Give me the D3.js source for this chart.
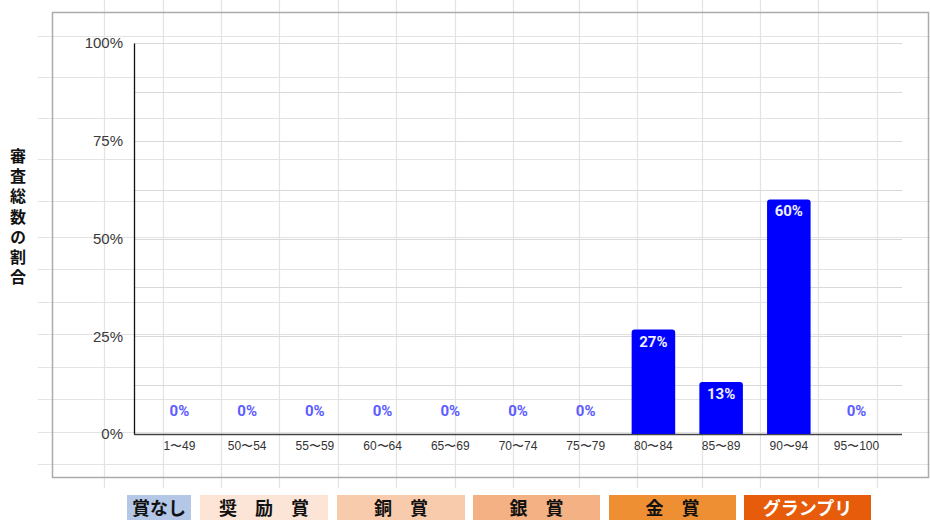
<!DOCTYPE html>
<html>
<head>
<meta charset="utf-8">
<script src="https://cdn.jsdelivr.net/npm/d3@7"></script>
<style>
  html, body { margin: 0; padding: 0; background: #fff; }
  svg { display: block; }
</style>
</head>
<body>
<div id="chart"></div>
<script>
// score bands and share of all entries (%)
var categories = ["1〜49", "50〜54", "55〜59", "60〜64", "65〜69", "70〜74", "75〜79", "80〜84", "85〜89", "90〜94", "95〜100"];
var shares = [0, 0, 0, 0, 0, 0, 0, 26.7, 13.3, 60, 0];
var yTicks = [0, 25, 50, 75, 100];
var yTitle = "審査総数の割合";

// award legend under the chart
var awards = ["賞なし", "奨　励　賞", "銅　賞", "銀　賞", "金　賞", "グランプリ"];
var awardColors = ["#b4c7e7", "#fce4d6", "#f8cbad", "#f4b183", "#ed8f32", "#e65c0a"];
var awardText = ["#111", "#111", "#111", "#111", "#111", "#fff"];

// spreadsheet behind the chart
var sheetCols = [104, 163, 221, 279, 338, 396, 455, 513, 579, 637, 702, 760, 818, 877];
var sheetRows = [36, 77, 118, 159, 201, 237, 269, 302, 334, 367, 399, 432, 464];

var W = 930, H = 520;
var plot = {left: 134, right: 902, top: 43, bottom: 434};

var svg = d3.select("#chart").append("svg")
    .attr("width", W)
    .attr("height", H);

// sheet grid
svg.append("g").selectAll("line").data(sheetCols).enter().append("line")
    .attr("x1", d => d + 0.5).attr("x2", d => d + 0.5)
    .attr("y1", 0).attr("y2", 488)
    .attr("stroke", "#e3e3e3").attr("stroke-width", 1.2);
svg.append("g").selectAll("line").data(sheetRows).enter().append("line")
    .attr("x1", 38).attr("x2", W)
    .attr("y1", d => d + 0.5).attr("y2", d => d + 0.5)
    .attr("stroke", "#e3e3e3").attr("stroke-width", 1.2);

// chart frame
svg.append("rect")
    .attr("x", 52.5).attr("y", 12.5)
    .attr("width", 876).attr("height", 465)
    .attr("fill", "none")
    .attr("stroke", "#ababab").attr("stroke-width", 1.5);

var x = d3.scaleBand()
    .domain(categories)
    .range([plot.left, plot.right])
    .paddingInner(0.357)
    .paddingOuter(0.35);

var y = d3.scaleLinear()
    .domain([0, 100])
    .range([plot.bottom, plot.top]);

// gridlines every 12.5%
svg.append("g").selectAll("line").data(d3.range(0, 100.1, 12.5)).enter().append("line")
    .attr("x1", plot.left).attr("x2", plot.right)
    .attr("y1", d => Math.round(y(d)) + 0.5).attr("y2", d => Math.round(y(d)) + 0.5)
    .attr("stroke", "#d9d9d9").attr("stroke-width", 1.2);

// y axis
var yAxis = d3.axisLeft(y)
    .tickValues(yTicks)
    .tickSize(0)
    .tickPadding(11)
    .tickFormat(d => d + "%");
var gy = svg.append("g")
    .attr("transform", "translate(" + plot.left + ",0)")
    .call(yAxis);
gy.select(".domain").attr("stroke", "#111").attr("stroke-width", 1.3);
gy.selectAll("text")
    .attr("font-family", "'Liberation Sans', Arial, sans-serif")
    .attr("font-size", 15)
    .attr("fill", "#3a3a3a");

// x axis
var xAxis = d3.axisBottom(x).tickSize(0).tickPadding(7);
var gx = svg.append("g")
    .attr("transform", "translate(0," + plot.bottom + ")")
    .call(xAxis);
gx.select(".domain").attr("stroke", "#444").attr("stroke-width", 1.3)
    .attr("d", "M" + plot.left + ",0.5H" + plot.right);
gx.selectAll("text")
    .attr("font-family", "'Liberation Sans', Arial, sans-serif")
    .attr("font-size", 12)
    .attr("fill", "#333");

// bars with rounded top corners
function barPath(d) {
    var x0 = x(d.cat), w = x.bandwidth(), y0 = y(d.v), yb = y(0), r = 3;
    if (yb - y0 < r) return "";
    return "M" + x0 + "," + yb +
        "V" + (y0 + r) +
        "Q" + x0 + "," + y0 + " " + (x0 + r) + "," + y0 +
        "H" + (x0 + w - r) +
        "Q" + (x0 + w) + "," + y0 + " " + (x0 + w) + "," + (y0 + r) +
        "V" + yb + "Z";
}

var rows = categories.map((c, i) => ({cat: c, v: shares[i]}));

svg.append("g").selectAll("path").data(rows).enter().append("path")
    .attr("d", barPath)
    .attr("fill", "#0000ff");

// value labels
svg.append("g").selectAll("text").data(rows).enter().append("text")
    .attr("x", d => x(d.cat) + x.bandwidth() / 2)
    .attr("y", d => d.v > 0 ? y(d.v) + 17 : y(0) - 18)
    .attr("text-anchor", "middle")
    .attr("font-family", "Roboto, 'Liberation Sans', sans-serif")
    .attr("font-weight", "bold")
    .attr("font-size", 15)
    .attr("fill", d => d.v > 0 ? "#eeeeff" : "#5c5cff")
    .text(d => Math.round(d.v) + "%");

// y title, vertical
svg.append("text")
    .attr("x", 18)
    .attr("y", 148)
    .attr("writing-mode", "vertical-rl")
    .attr("letter-spacing", 4.2)
    .attr("font-family", "'Noto Sans CJK JP', sans-serif")
    .attr("font-weight", "bold")
    .attr("font-size", 16)
    .attr("fill", "#111")
    .text(yTitle);

// award legend boxes
var legendX = [127, 200, 337, 473, 609, 744];
var legendW = [64, 128, 128, 127, 127, 127];
var lg = svg.append("g").selectAll("g").data(awards).enter().append("g");
lg.append("rect")
    .attr("x", (d, i) => legendX[i])
    .attr("y", 495)
    .attr("width", (d, i) => legendW[i])
    .attr("height", 30)
    .attr("fill", (d, i) => awardColors[i]);
lg.append("text")
    .attr("x", (d, i) => legendX[i] + legendW[i] / 2)
    .attr("y", 515)
    .attr("text-anchor", "middle")
    .attr("font-family", "'Noto Sans CJK JP', sans-serif")
    .attr("font-weight", "bold")
    .attr("font-size", 18)
    .attr("fill", (d, i) => awardText[i])
    .text(d => d);
</script>
</body>
</html>
